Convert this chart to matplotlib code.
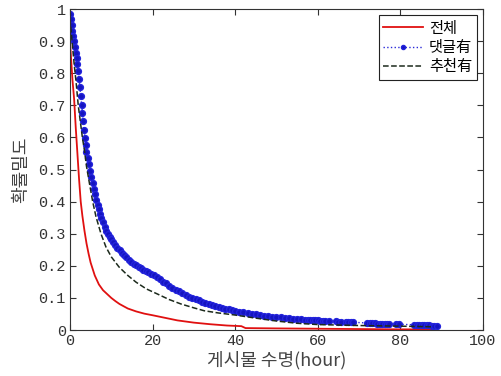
import matplotlib
matplotlib.use('Agg')
import matplotlib.pyplot as plt

# 게시물 수명 분포 (hour)
plt.rcParams['font.family'] = ['Noto Sans CJK KR', 'DejaVu Sans']

# 전체
all_x = [0, 0.3, 0.6, 1.0, 1.4, 1.8, 2.2, 2.6, 3.0, 3.5, 4.0, 4.5, 5.0, 6.0, 7.0, 8.0,
         9.0, 10, 11, 12, 14, 16, 18, 20, 23, 26, 30, 34, 38, 41.5, 42.5, 50, 60, 70,
         80, 88]
all_y = [0.90, 0.84, 0.78, 0.72, 0.63, 0.55, 0.47, 0.40, 0.356, 0.31, 0.27, 0.238,
         0.21, 0.17, 0.142, 0.124, 0.112, 0.100, 0.090, 0.081, 0.067, 0.058, 0.051,
         0.046, 0.038, 0.030, 0.023, 0.018, 0.014, 0.012, 0.006, 0.005, 0.004, 0.003,
         0.002, 0.002]

# 댓글有
cmt_x = [0.0, 0.2, 0.4, 0.6, 0.8, 1.0, 1.2, 1.4, 1.6, 1.8, 2.0, 2.2, 2.4, 2.6, 2.8,
         3.0, 3.2, 3.4, 3.6, 3.8, 4.0, 4.3, 4.6, 4.9, 5.2, 5.5, 5.8, 6.1, 6.4, 6.7,
         7.0, 7.3, 7.6, 8.0, 8.4, 8.8, 9.2, 9.6, 10.0, 10.5, 11.0, 11.5, 12.0, 12.5,
         13.0, 13.6, 14.2, 14.8, 15.4, 16.0, 16.6, 17.2, 17.8, 18.4, 19.0, 19.7, 20.4,
         21.1, 21.8, 22.5, 23.2, 24.0, 24.8, 25.6, 26.4, 27.2, 28.0, 28.8, 29.6, 30.4,
         31.2, 32.0, 32.8, 33.6, 34.4, 35.2, 36.0, 36.8, 37.6, 38.4, 39.2, 40.0, 41.0,
         42.0, 43.0, 44.0, 45.0, 46.0, 47.0, 48.0, 49.0, 50.0, 51.0, 52.0, 53.0, 54.0,
         55.0, 56.0, 57.0, 57.6, 58.2, 58.8, 59.4, 60.0, 60.6, 61.2, 61.8, 62.6,
         64.4, 65.0, 65.6, 66.8, 67.4, 68.0, 68.6, 72.0, 72.6, 73.2, 73.8, 74.4, 75.0,
         75.6, 76.2, 76.8, 77.3, 79.0, 79.6, 83.4, 84.0, 84.6, 85.2, 85.8, 86.4, 87.0,
         87.6, 88.2, 88.8]
cmt_y = [0.985, 0.968, 0.950, 0.932, 0.916, 0.900, 0.882, 0.864, 0.846, 0.828, 0.806,
         0.782, 0.756, 0.730, 0.702, 0.675, 0.650, 0.623, 0.598, 0.575, 0.556, 0.536,
         0.516, 0.496, 0.476, 0.458, 0.440, 0.423, 0.406, 0.390, 0.376, 0.362, 0.350,
         0.336, 0.322, 0.310, 0.300, 0.291, 0.282, 0.273, 0.264, 0.256, 0.248, 0.240,
         0.233, 0.226, 0.219, 0.212, 0.206, 0.201, 0.196, 0.192, 0.188, 0.184, 0.180,
         0.175, 0.170, 0.164, 0.158, 0.151, 0.145, 0.138, 0.132, 0.126, 0.120, 0.114,
         0.109, 0.104, 0.100, 0.096, 0.092, 0.088, 0.085, 0.082, 0.079, 0.076, 0.073,
         0.070, 0.067, 0.064, 0.061, 0.059, 0.057, 0.055, 0.053, 0.051, 0.049, 0.047,
         0.045, 0.043, 0.042, 0.040, 0.039, 0.038, 0.036, 0.035, 0.034, 0.033, 0.032,
         0.032, 0.031, 0.031, 0.030, 0.030, 0.029, 0.029, 0.028, 0.028,
         0.027, 0.026, 0.026, 0.025, 0.025, 0.024, 0.024, 0.022, 0.022, 0.021, 0.021,
         0.020, 0.020, 0.020, 0.019, 0.019, 0.019, 0.018, 0.018, 0.016, 0.016, 0.016,
         0.015, 0.015, 0.015, 0.015, 0.014, 0.014, 0.014]

# 추천有
rec_x = [0, 0.5, 1.0, 1.5, 2.0, 2.5, 3.0, 3.5, 4.0, 4.7, 5.5, 6.3, 7.5, 8.7, 10, 11.9,
         14, 16, 18.5, 21.2, 24, 26.9, 30, 32.5, 36, 39.8, 45, 50, 55, 60, 70, 80, 88]
rec_y = [0.97, 0.90, 0.83, 0.77, 0.70, 0.65, 0.60, 0.56, 0.51, 0.458, 0.40, 0.353,
         0.30, 0.259, 0.228, 0.196, 0.170, 0.149, 0.128, 0.112, 0.095, 0.081, 0.069,
         0.060, 0.053, 0.047, 0.037, 0.028, 0.021, 0.017, 0.014, 0.012, 0.010]

fig = plt.figure(figsize=(5.02, 3.76), dpi=100)
ax = fig.add_axes([0.1394, 0.1223, 0.8227, 0.8537])

ax.plot(all_x, all_y, color='#e01010', lw=1.3, label='전체')
ax.plot(cmt_x, cmt_y, ':', color='#2a2ad8', lw=1.0, marker='o', ms=4.2,
        mfc='#1414c0', mec='#2424dc', label='댓글有')
ax.plot(rec_x, rec_y, '--', color='#1c2a1c', lw=1.1, label='추천有')

ax.set_xlim(0, 100)
ax.set_ylim(0, 1)
ax.set_xticks([0, 20, 40, 60, 80, 100])
ax.set_yticks([i / 10 for i in range(11)])
ax.set_yticklabels(['0', '0.1', '0.2', '0.3', '0.4', '0.5', '0.6', '0.7', '0.8', '0.9', '1'])

ax.tick_params(direction='in', top=True, right=True, length=4, width=0.8,
               labelsize=11, colors='#333333', pad=3)
for lbl in ax.get_xticklabels() + ax.get_yticklabels():
    lbl.set_family('Liberation Mono')
for sp in ax.spines.values():
    sp.set_color('#333333')
    sp.set_linewidth(0.8)

ax.set_xlabel('게시물 수명(hour)', fontsize=13, color='#444444', labelpad=2)
ax.set_ylabel('확률밀도', fontsize=13, color='#444444', labelpad=6)

leg = ax.legend(loc='upper right', fontsize=11, fancybox=False, framealpha=1,
                edgecolor='#222222', handlelength=2.6, borderaxespad=0.4,
                labelspacing=0.15, handletextpad=0.4, borderpad=0.3, markerscale=0.7)
leg.get_frame().set_linewidth(0.8)

fig.savefig('out.png', dpi=100)
